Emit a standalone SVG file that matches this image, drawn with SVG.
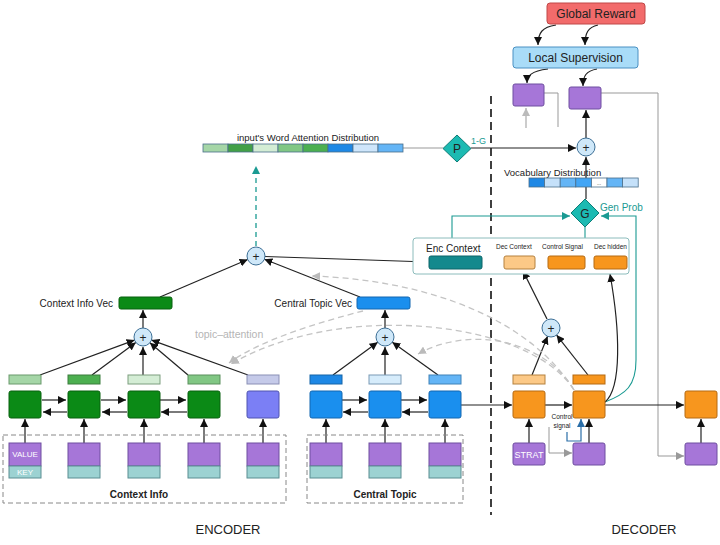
<svg xmlns="http://www.w3.org/2000/svg" width="720" height="545" viewBox="0 0 720 545">
<defs>
<marker id="ab" markerUnits="userSpaceOnUse" markerWidth="9" markerHeight="8" refX="8" refY="4" orient="auto"><path d="M0,0 L8,4 L0,8 z" fill="#111"/></marker>
<marker id="ag" markerUnits="userSpaceOnUse" markerWidth="9" markerHeight="8" refX="8" refY="4" orient="auto"><path d="M0,0 L8,4 L0,8 z" fill="#999"/></marker>
<marker id="agl" markerUnits="userSpaceOnUse" markerWidth="9" markerHeight="8" refX="8" refY="4" orient="auto"><path d="M0,0 L8,4 L0,8 z" fill="#bbb"/></marker>
<marker id="at" markerUnits="userSpaceOnUse" markerWidth="9" markerHeight="8" refX="8" refY="4" orient="auto"><path d="M0,0 L8,4 L0,8 z" fill="#1a9a92"/></marker>
<marker id="abl" markerUnits="userSpaceOnUse" markerWidth="9" markerHeight="8" refX="8" refY="4" orient="auto"><path d="M0,0 L8,4 L0,8 z" fill="#2a6ea8"/></marker>
</defs>
<style>
text{font-family:"Liberation Sans",Arial,sans-serif;fill:#222}
.ln{stroke:#222;stroke-width:1.2;fill:none}
.gl{stroke:#999;stroke-width:1;fill:none}
.dsh{stroke:#c4c4c4;stroke-width:1.3;stroke-dasharray:6,4;fill:none}
.tl{stroke:#1a9a92;stroke-width:1.1;fill:none}
.pl circle{fill:#cfe8f9;stroke:#3d6f96;stroke-width:1}
.pl text{font-size:12px;text-anchor:middle}
.pu{fill:#a676d8;stroke:#6f4ea0;stroke-width:1}
.ky{fill:#9cd2d2;stroke:#5b8e92;stroke-width:1}
.gn{fill:#0b8a16;stroke:#08600f;stroke-width:1}
.bn{fill:#1a8fee;stroke:#1266b0;stroke-width:1}
.on{fill:#f7961e;stroke:#b56a12;stroke-width:1}
.dm{fill:#1cbab2;stroke:#0e7d77;stroke-width:1}
.cell{stroke:#4a6e8a;stroke-width:0.8}
.w{fill:#fff}
</style>

<!-- separator -->
<line x1="491" y1="96" x2="491" y2="515" stroke="#111" stroke-width="1.6" stroke-dasharray="8,5"/>

<g id="connectors">
<!-- reward / supervision -->
<path class="ln" d="M556,25 C542,27 538,33 538,45" marker-end="url(#ab)" stroke-width="1"/>
<path class="ln" d="M598,25 C588,27 585,33 585,45" marker-end="url(#ab)" stroke-width="1"/>
<path class="ln" d="M548,69 C531,71 527,76 527,83" marker-end="url(#ab)" stroke-width="1"/>
<path class="ln" d="M597,69 C586,71 583,76 583,86" marker-end="url(#ab)" stroke-width="1"/>
<path class="gl" d="M544,93 L558,93 L558,127"/>
<line x1="526" y1="128" x2="526" y2="108" stroke="#bbb" stroke-width="1.5" marker-end="url(#agl)"/>
<path class="gl" d="M601,93 L658,93 L658,456 L684,456" marker-end="url(#ag)"/>
<line class="ln" x1="586" y1="138" x2="586" y2="110" marker-end="url(#ab)"/>
<!-- word attention to P to plus -->
<line class="gl" x1="403" y1="148" x2="443" y2="148"/>
<line class="ln" x1="471" y1="148" x2="576" y2="148" marker-end="url(#ab)"/>
<line class="ln" x1="586" y1="199" x2="586" y2="157" marker-end="url(#ab)"/>
<!-- teal gen prob -->
<path class="tl" d="M452,238 L452,216 L570,216" marker-end="url(#at)"/>
<path class="tl" d="M605,402 C626,394 636,386 636,360 L636,216 L601,216" marker-end="url(#at)"/>
<line class="tl" x1="585" y1="227" x2="585" y2="238"/>
<path class="ln" d="M605,402 C622,388 620,330 610,274" marker-end="url(#ab)"/>
<!-- encoder global plus -->
<line class="ln" x1="160" y1="297" x2="247.7" y2="259.5" marker-end="url(#ab)"/>
<line class="ln" x1="360" y1="297" x2="264.4" y2="259.3" marker-end="url(#ab)"/>
<line class="ln" x1="265" y1="256.5" x2="428" y2="262" marker-end="url(#ab)"/>
<line x1="256" y1="246" x2="256" y2="166" stroke="#1a9a92" stroke-width="1.3" stroke-dasharray="5,4" marker-end="url(#at)"/>
<line class="ln" x1="143" y1="328" x2="143" y2="310" marker-end="url(#ab)"/>
<line class="ln" x1="385" y1="328" x2="385" y2="310" marker-end="url(#ab)"/>
<!-- context bars to plus -->
<line class="ln" x1="40" y1="375" x2="134.6" y2="340.1" marker-end="url(#ab)"/>
<line class="ln" x1="92" y1="375" x2="135.8" y2="342.4" marker-end="url(#ab)"/>
<line class="ln" x1="143" y1="375" x2="143" y2="347" marker-end="url(#ab)"/>
<line class="ln" x1="188" y1="375" x2="149.9" y2="342.8" marker-end="url(#ab)"/>
<line class="ln" x1="248" y1="375" x2="151.5" y2="340.1" marker-end="url(#ab)"/>
<!-- central bars to plus -->
<line class="ln" x1="333" y1="375" x2="377.7" y2="342.3" marker-end="url(#ab)"/>
<line class="ln" x1="385" y1="375" x2="385" y2="347" marker-end="url(#ab)"/>
<line class="ln" x1="438" y1="375" x2="392.3" y2="342.2" marker-end="url(#ab)"/>
<!-- decoder plus -->
<line class="ln" x1="532" y1="375" x2="547.6" y2="336.3" marker-end="url(#ab)"/>
<line class="ln" x1="588" y1="375" x2="556.6" y2="335.1" marker-end="url(#ab)"/>
<line class="ln" x1="547" y1="319" x2="523" y2="271" marker-end="url(#ab)"/>
<!-- encoder horizontal arrows -->
<line class="ln" x1="42" y1="400" x2="66" y2="400" marker-end="url(#ab)"/>
<line class="ln" x1="67" y1="412" x2="43" y2="412" marker-end="url(#ab)"/>
<line class="ln" x1="101" y1="400" x2="126" y2="400" marker-end="url(#ab)"/>
<line class="ln" x1="127" y1="412" x2="102" y2="412" marker-end="url(#ab)"/>
<line class="ln" x1="160" y1="400" x2="186" y2="400" marker-end="url(#ab)"/>
<line class="ln" x1="187" y1="412" x2="161" y2="412" marker-end="url(#ab)"/>
<line class="ln" x1="342" y1="400" x2="367" y2="400" marker-end="url(#ab)"/>
<line class="ln" x1="368" y1="412" x2="343" y2="412" marker-end="url(#ab)"/>
<line class="ln" x1="401" y1="400" x2="427" y2="400" marker-end="url(#ab)"/>
<line class="ln" x1="428" y1="412" x2="402" y2="412" marker-end="url(#ab)"/>
<line class="ln" x1="461" y1="405" x2="512" y2="405" marker-end="url(#ab)"/>
<line class="ln" x1="545" y1="405" x2="572" y2="405" marker-end="url(#ab)"/>
<line class="ln" x1="605" y1="405" x2="684" y2="405" marker-end="url(#ab)"/>
<!-- input up arrows -->
<line class="ln" x1="25" y1="443" x2="25" y2="419" marker-end="url(#ab)"/>
<line class="ln" x1="84" y1="443" x2="84" y2="419" marker-end="url(#ab)"/>
<line class="ln" x1="144" y1="443" x2="144" y2="419" marker-end="url(#ab)"/>
<line class="ln" x1="204" y1="443" x2="204" y2="419" marker-end="url(#ab)"/>
<line class="ln" x1="263" y1="443" x2="263" y2="419" marker-end="url(#ab)"/>
<line class="ln" x1="326" y1="443" x2="326" y2="419" marker-end="url(#ab)"/>
<line class="ln" x1="385" y1="443" x2="385" y2="419" marker-end="url(#ab)"/>
<line class="ln" x1="445" y1="443" x2="445" y2="419" marker-end="url(#ab)"/>
<line class="ln" x1="529" y1="443" x2="529" y2="419" marker-end="url(#ab)"/>
<line class="ln" x1="589" y1="443" x2="589" y2="419" marker-end="url(#ab)"/>
<line class="ln" x1="701" y1="443" x2="701" y2="419" marker-end="url(#ab)"/>
<path d="M567,432 L567,441 L581,441 L581,419" fill="none" stroke="#2a6ea8" stroke-width="1.2" marker-end="url(#abl)"/>
<path class="gl" d="M549,427 L549,453 L572,453" marker-end="url(#ag)"/>
<!-- topic attention dashed -->
<path class="dsh" d="M363,311 C320,322 260,340 229,363" marker-end="url(#agl)"/>
<path class="dsh" d="M574,390 C530,320 340,300 231,364" marker-end="url(#agl)"/>
<path class="dsh" d="M574,390 C545,340 470,325 418,354" marker-end="url(#agl)"/>
<path class="dsh" d="M574,390 C530,320 430,280 312,276" marker-end="url(#agl)"/>
</g>

<g id="global-reward"><rect x="547" y="3" width="98" height="21" rx="3" fill="#f26b6b" stroke="#c04848"/><text x="596" y="18" font-size="12" text-anchor="middle">Global Reward</text></g>
<g id="local-supervision"><rect x="513" y="47" width="125" height="21" rx="3" fill="#a9dcf8" stroke="#4a90c2"/><text x="575.5" y="62" font-size="12" text-anchor="middle">Local Supervision</text></g>
<g id="sup-box1"><rect class="pu" x="513" y="84" width="31" height="22" rx="2"/></g>
<g id="sup-box2"><rect class="pu" x="569" y="87" width="32" height="22" rx="2"/></g>

<g id="word-attention">
<text x="308" y="141" font-size="9.5" text-anchor="middle">input's Word Attention Distribution</text>
<rect class="cell" x="203" y="144" width="25" height="8" fill="#a5d6a7"/>
<rect class="cell" x="228" y="144" width="25" height="8" fill="#43a047"/>
<rect class="cell" x="253" y="144" width="25" height="8" fill="#d4edd5"/>
<rect class="cell" x="278" y="144" width="25" height="8" fill="#81c784"/>
<rect class="cell" x="303" y="144" width="25" height="8" fill="#4caf50"/>
<rect class="cell" x="328" y="144" width="25" height="8" fill="#1e88e5"/>
<rect class="cell" x="353" y="144" width="25" height="8" fill="#cfe6fb"/>
<rect class="cell" x="378" y="144" width="25" height="8" fill="#64b5f6"/>
</g>
<g id="p-switch"><path class="dm" d="M457,135 L471,148.5 L457,162 L443,148.5 z"/><text x="457" y="153" font-size="12" text-anchor="middle">P</text><text x="471" y="144" font-size="9" style="fill:#1a9a92">1-G</text></g>
<g id="dec-plus-top" class="pl"><circle cx="586" cy="147" r="9"/><text x="586" y="151.5">+</text></g>

<g id="vocab">
<text x="504" y="176" font-size="9.5">Vocabulary Distribution</text>
<rect class="cell" x="529" y="178" width="15.6" height="9" fill="#1e88e5"/>
<rect class="cell" x="544.6" y="178" width="15.6" height="9" fill="#c5e1fa"/>
<rect class="cell" x="560.2" y="178" width="15.6" height="9" fill="#64b5f6"/>
<rect class="cell" x="575.8" y="178" width="15.6" height="9" fill="#42a5f5"/>
<rect class="cell" x="591.4" y="178" width="15.6" height="9" fill="#ffffff"/>
<text x="599" y="185" font-size="5" text-anchor="middle">...</text>
<rect class="cell" x="607" y="178" width="15.6" height="9" fill="#64b5f6"/>
<rect class="cell" x="622.6" y="178" width="15.6" height="9" fill="#c5e1fa"/>
</g>
<g id="g-switch"><path class="dm" d="M585,199 L599,213 L585,227 L571,213 z"/><text x="585" y="217.5" font-size="12" text-anchor="middle">G</text><text x="600" y="211" font-size="10" style="fill:#1a9a92">Gen Prob</text></g>

<g id="context-box">
<rect x="413" y="238" width="216" height="36" rx="3" fill="#fff" stroke="#8cbcbc" stroke-width="1"/>
<text x="426" y="252" font-size="10">Enc Context</text>
<rect x="429" y="256" width="53" height="13" rx="2" fill="#13898d" stroke="#0c6468"/>
<text x="496" y="249" font-size="6.5">Dec Context</text>
<rect x="504" y="256" width="31" height="13" rx="2" fill="#fcc987" stroke="#b5813f"/>
<text x="542" y="249" font-size="6.5">Control Signal</text>
<rect class="on" x="548" y="256" width="37" height="13" rx="2"/>
<text x="594" y="249" font-size="6.5">Dec hidden</text>
<rect class="on" x="594" y="256" width="33" height="13" rx="2"/>
</g>

<g id="global-plus" class="pl"><circle cx="256" cy="256" r="9"/><text x="256" y="260.5">+</text></g>
<g id="context-vec"><text x="113" y="307" font-size="10" text-anchor="end">Context Info Vec</text><rect class="gn" x="119" y="297" width="53" height="12" rx="2"/></g>
<g id="central-vec"><text x="352" y="307" font-size="10" text-anchor="end">Central Topic Vec</text><rect class="bn" x="357" y="297" width="53" height="12" rx="2"/></g>
<text x="195" y="338" font-size="10.5" style="fill:#b5b5b5">topic–attention</text>
<g id="context-plus" class="pl"><circle cx="143" cy="337" r="9"/><text x="143" y="341.5">+</text></g>
<g id="central-plus" class="pl"><circle cx="385" cy="337" r="9"/><text x="385" y="341.5">+</text></g>
<g id="dec-plus" class="pl"><circle cx="551" cy="328" r="9"/><text x="551" y="332.5">+</text></g>

<!-- encoder context -->
<rect x="3" y="435" width="283" height="68" fill="none" stroke="#888" stroke-dasharray="5,3"/>
<text x="139" y="498" font-size="10" font-weight="bold" text-anchor="middle">Context Info</text>
<g id="ctx1"><rect x="9" y="375" width="32" height="9" fill="#a5d6a7" stroke="#6a9a6c"/><rect class="gn" x="9" y="391" width="32" height="27" rx="2"/><rect class="pu" x="9" y="443" width="32" height="23"/><rect class="ky" x="9" y="466" width="32" height="12"/><text x="25" y="457" font-size="8" text-anchor="middle" style="fill:#fff">VALUE</text><text x="25" y="475" font-size="8" text-anchor="middle" style="fill:#fff">KEY</text></g>
<g id="ctx2"><rect x="68" y="375" width="32" height="9" fill="#4caf50" stroke="#3a7d3d"/><rect class="gn" x="68" y="391" width="32" height="27" rx="2"/><rect class="pu" x="68" y="443" width="32" height="23"/><rect class="ky" x="68" y="466" width="32" height="12"/></g>
<g id="ctx3"><rect x="128" y="375" width="32" height="9" fill="#d4edd5" stroke="#7d9e7f"/><rect class="gn" x="128" y="391" width="32" height="27" rx="2"/><rect class="pu" x="128" y="443" width="32" height="23"/><rect class="ky" x="128" y="466" width="32" height="12"/></g>
<g id="ctx4"><rect x="188" y="375" width="32" height="9" fill="#81c784" stroke="#5a8f5d"/><rect class="gn" x="188" y="391" width="32" height="27" rx="2"/><rect class="pu" x="188" y="443" width="32" height="23"/><rect class="ky" x="188" y="466" width="32" height="12"/></g>
<g id="ctx5"><rect x="247" y="375" width="32" height="9" fill="#c5cae9" stroke="#8a8fb5"/><rect x="247" y="391" width="32" height="27" rx="2" fill="#7b7ff5" stroke="#5055b0"/><rect class="pu" x="247" y="443" width="32" height="23"/><rect class="ky" x="247" y="466" width="32" height="12"/></g>

<!-- encoder central topic -->
<rect x="307" y="435" width="156" height="68" fill="none" stroke="#888" stroke-dasharray="5,3"/>
<text x="385" y="498" font-size="10" font-weight="bold" text-anchor="middle">Central Topic</text>
<g id="ct1"><rect x="310" y="375" width="32" height="9" fill="#1e88e5" stroke="#1565a8"/><rect class="bn" x="310" y="391" width="32" height="27" rx="2"/><rect class="pu" x="310" y="443" width="32" height="23"/><rect class="ky" x="310" y="466" width="32" height="12"/></g>
<g id="ct2"><rect x="369" y="375" width="32" height="9" fill="#d6ecfb" stroke="#7a9ab5"/><rect class="bn" x="369" y="391" width="32" height="27" rx="2"/><rect class="pu" x="369" y="443" width="32" height="23"/><rect class="ky" x="369" y="466" width="32" height="12"/></g>
<g id="ct3"><rect x="429" y="375" width="32" height="9" fill="#64b5f6" stroke="#3f82b8"/><rect class="bn" x="429" y="391" width="32" height="27" rx="2"/><rect class="pu" x="429" y="443" width="32" height="23"/><rect class="ky" x="429" y="466" width="32" height="12"/></g>

<!-- decoder -->
<g id="dec1"><rect x="513" y="375" width="32" height="9" fill="#fcc987" stroke="#b5813f"/><rect class="on" x="513" y="391" width="32" height="27" rx="2"/></g>
<g id="strat"><rect class="pu" x="513" y="443" width="32" height="22" rx="2"/><text x="529" y="458" font-size="9" text-anchor="middle" style="fill:#fff">STRAT</text></g>
<g id="dec2"><rect class="on" x="573" y="375" width="32" height="9"/><rect class="on" x="573" y="391" width="32" height="27" rx="2"/></g>
<g id="dec2-in"><rect class="pu" x="573" y="443" width="32" height="22" rx="2"/></g>
<text x="562" y="419" font-size="6.5" text-anchor="middle">Control</text>
<text x="562" y="428" font-size="6.5" text-anchor="middle">signal</text>
<g id="dec3"><rect class="on" x="685" y="391" width="32" height="27" rx="2"/></g>
<g id="dec3-in"><rect class="pu" x="685" y="443" width="32" height="22" rx="2"/></g>

<text x="228" y="534" font-size="13" text-anchor="middle">ENCODER</text>
<text x="644" y="534" font-size="13" text-anchor="middle">DECODER</text>
</svg>
